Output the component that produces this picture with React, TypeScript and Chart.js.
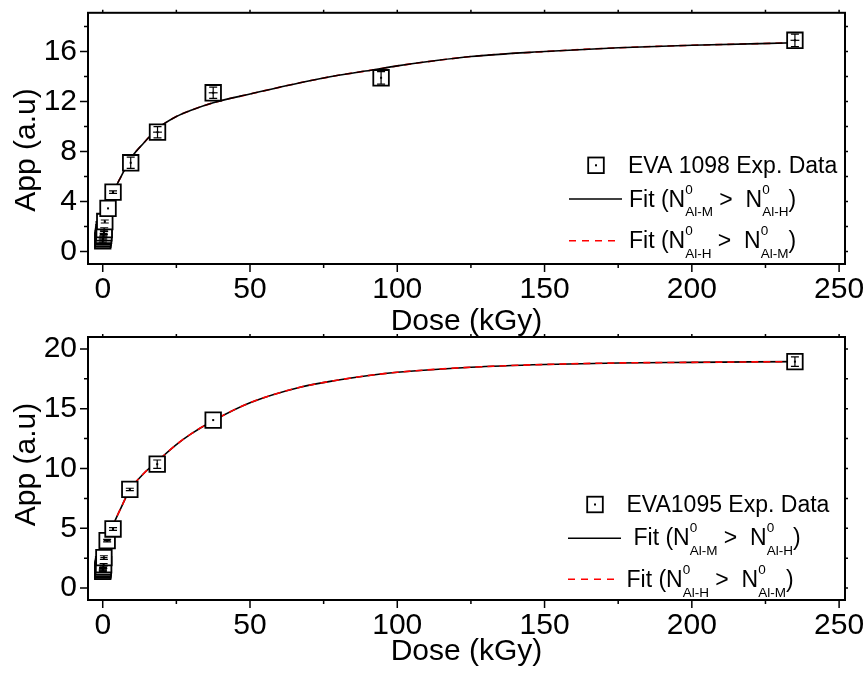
import React, { useEffect, useRef } from 'react';
import { Chart, registerables } from 'chart.js';

Chart.register(...registerables);

const FONT = "'Liberation Sans', Arial, Helvetica, sans-serif";

// ---------- Top panel (EVA 1098) ----------
const doseTop = [0, 0.1, 0.2, 0.3, 0.4, 0.5, 0.7, 1.8, 3.5, 9.5, 18.6, 37.5, 94.5, 235];
const appTop = [0.85, 1.0, 1.15, 1.3, 1.5, 1.75, 2.4, 3.45, 4.75, 7.1, 9.55, 12.7, 13.9, 16.9];
const errYTop = [0.15, 0.15, 0.15, 0.15, 0.15, 0.15, 0.12, 0, 0.1, 0.45, 0.45, 0.45, 0.5, 0.5];
const errXTop = [0, 0, 0, 0, 0, 0, 0, 0, 0, 0, 1.5, 1.5, 0, 1.5];
const fitDoseTop = [0, 0.5, 1, 2, 4, 6, 10, 14, 18.4, 25, 30, 37.5, 50, 67, 80, 91, 100, 125, 150, 175, 200, 235];
const fitTopMH = [0.9, 1.8, 2.5, 3.4, 4.9, 5.9, 7.6, 8.7, 9.8, 10.8, 11.3, 11.9, 12.6, 13.5, 14.1, 14.5, 14.85, 15.6, 16.0, 16.3, 16.5, 16.7];
const fitTopHM = [0.9, 1.8, 2.5, 3.4, 4.9, 5.9, 7.6, 8.7, 9.8, 10.8, 11.3, 11.9, 12.6, 13.5, 14.1, 14.5, 14.85, 15.6, 16.0, 16.3, 16.5, 16.7];
const yMajorTop = [0, 4, 8, 12, 16];
const yMinorTop = [2, 6, 10, 14, 18];

// ---------- Bottom panel (EVA1095) ----------
const doseBot = [0, 0.05, 0.1, 0.2, 0.3, 0.4, 1.5, 3.5, 9.2, 18.5, 37.5, 235];
const appBot = [1.4, 1.5, 1.6, 1.75, 1.95, 2.55, 3.97, 4.94, 8.25, 10.36, 14.05, 18.94];
const errYBot = [0.1, 0.1, 0.1, 0.1, 0.1, 0.15, 0.1, 0.12, 0.1, 0.35, 0, 0.4];
const errXBot = [0, 0, 0, 0, 0, 1.2, 1.2, 0, 0, 0, 0, 0];
const fitDoseBot = [0, 0.5, 1.5, 3.5, 6, 9.2, 14, 18.5, 25, 30, 37.5, 50, 67, 80, 91, 100, 125, 150, 175, 200, 235];
const fitBotMH = [1.2, 2.2, 3.5, 5.2, 6.6, 8.2, 9.6, 10.6, 12.0, 12.9, 14.0, 15.5, 16.8, 17.4, 17.8, 18.05, 18.47, 18.7, 18.83, 18.88, 18.94];
const fitBotHM = [1.2, 2.2, 3.5, 5.2, 6.6, 8.2, 9.6, 10.6, 12.0, 12.9, 14.0, 15.5, 16.8, 17.4, 17.8, 18.05, 18.47, 18.7, 18.83, 18.88, 18.94];
const yMajorBot = [0, 5, 10, 15, 20];
const yMinorBot = [2.5, 7.5, 12.5, 17.5];

// ---------- shared axis ----------
const xMajor = [0, 50, 100, 150, 200, 250];
const xMinor = [25, 75, 125, 175, 225];
const xTitle = 'Dose (kGy)';
const yTitle = 'App (a.u)';

// legend labels
type Part = string | { sup: string; sub: string };
const dataLabelTop = 'EVA 1098 Exp. Data';
const dataLabelBot = 'EVA1095 Exp. Data';
const fitLabelMH: Part[] = ['Fit (N', { sup: '0', sub: 'Al-M' }, ' >  N', { sup: '0', sub: 'Al-H' }, ')'];
const fitLabelHM: Part[] = ['Fit (N', { sup: '0', sub: 'Al-H' }, ' >  N', { sup: '0', sub: 'Al-M' }, ')'];

type Panel = {
  height: number;
  padTop: number;
  xAxisHeight: number;
  yMin: number;
  yMax: number;
  yStep: number;
  yMajor: number[];
  yMinor: number[];
  dose: number[];
  app: number[];
  errY: number[];
  errX: number[];
  fitDose: number[];
  fitMH: number[];
  fitHM: number[];
  redOnTop: boolean;
  yTitleY: number;
  xTitleBase: number;
  dataLabel: string;
  legend: {
    sq: [number, number];
    t1: [number, number];
    l2: [number, number, number];
    t2: [number, number];
    l3: [number, number, number];
    t3: [number, number];
  };
};

const topPanel: Panel = {
  height: 340,
  padTop: 7,
  xAxisHeight: 76,
  yMin: -1,
  yMax: 19.1,
  yStep: 4,
  yMajor: yMajorTop,
  yMinor: yMinorTop,
  dose: doseTop,
  app: appTop,
  errY: errYTop,
  errX: errXTop,
  fitDose: fitDoseTop,
  fitMH: fitTopMH,
  fitHM: fitTopHM,
  redOnTop: false,
  yTitleY: 150,
  xTitleBase: 330,
  dataLabel: dataLabelTop,
  legend: {
    sq: [596, 165.3],
    t1: [628, 173.3],
    l2: [569, 622, 199],
    t2: [629, 206.7],
    l3: [569, 618, 240.7],
    t3: [629, 248.3],
  },
};

const botPanel: Panel = {
  height: 353,
  padTop: 17,
  xAxisHeight: 73,
  yMin: -1,
  yMax: 21,
  yStep: 5,
  yMajor: yMajorBot,
  yMinor: yMinorBot,
  dose: doseBot,
  app: appBot,
  errY: errYBot,
  errX: errXBot,
  fitDose: fitDoseBot,
  fitMH: fitBotMH,
  fitHM: fitBotHM,
  redOnTop: true,
  yTitleY: 144.5,
  xTitleBase: 340,
  dataLabel: dataLabelBot,
  legend: {
    sq: [595, 184.5],
    t1: [626.5, 191.7],
    l2: [568, 621, 218.3],
    t2: [633.5, 225],
    l3: [568, 617, 259.3],
    t3: [626.5, 267.3],
  },
};

function drawRich(ctx: CanvasRenderingContext2D, x: number, base: number, parts: Part[]) {
  let cx = x;
  ctx.textAlign = 'left';
  ctx.textBaseline = 'alphabetic';
  for (const p of parts) {
    if (typeof p === 'string') {
      ctx.font = `23px ${FONT}`;
      ctx.fillText(p, cx, base);
      cx += ctx.measureText(p).width;
    } else {
      ctx.font = `13.5px ${FONT}`;
      ctx.fillText(p.sup, cx, base - 13);
      ctx.fillText(p.sub, cx, base + 9.5);
      cx += Math.max(ctx.measureText(p.sup).width, ctx.measureText(p.sub).width);
    }
  }
}

function makeConfig(p: Panel): any {
  const scatterData = p.dose.map((d, i) => ({ x: d, y: p.app[i] }));
  const mhData = p.fitDose.map((d, i) => ({ x: d, y: p.fitMH[i] }));
  const hmData = p.fitDose.map((d, i) => ({ x: d, y: p.fitHM[i] }));

  const blackDs = {
    type: 'line',
    label: 'fitMH',
    data: mhData,
    borderColor: '#000',
    borderWidth: 1.6,
    pointRadius: 0,
    fill: false,
    cubicInterpolationMode: 'monotone',
    showLine: true,
  };
  const redDs = {
    type: 'line',
    label: 'fitHM',
    data: hmData,
    borderColor: '#ff0000',
    borderWidth: 1.6,
    borderDash: [7, 5],
    pointRadius: 0,
    fill: false,
    cubicInterpolationMode: 'monotone',
    showLine: true,
  };
  const scatterDs = {
    type: 'scatter',
    label: 'data',
    data: scatterData,
    pointStyle: 'rect',
    pointRadius: 11,
    pointBorderWidth: 1.8,
    pointBorderColor: '#000',
    pointBackgroundColor: '#fff',
    showLine: false,
  };
  // index 0 drawn on top
  const datasets = p.redOnTop ? [scatterDs, redDs, blackDs] : [scatterDs, blackDs, redDs];

  const decor = {
    id: 'decor',
    afterDatasetsDraw(chart: any) {
      const { ctx } = chart;
      const xs = chart.scales.x;
      const ys = chart.scales.y;
      ctx.save();
      ctx.strokeStyle = '#000';
      ctx.fillStyle = '#000';
      ctx.lineWidth = 1.2;
      for (let i = 0; i < p.dose.length; i++) {
        const px = xs.getPixelForValue(p.dose[i]);
        const py = ys.getPixelForValue(p.app[i]);
        ctx.fillRect(px - 1, py - 1, 2, 2);
        if (p.errY[i] > 0) {
          const y1 = ys.getPixelForValue(p.app[i] + p.errY[i]);
          const y2 = ys.getPixelForValue(p.app[i] - p.errY[i]);
          ctx.beginPath();
          ctx.moveTo(px, y1);
          ctx.lineTo(px, y2);
          ctx.moveTo(px - 4, y1);
          ctx.lineTo(px + 4, y1);
          ctx.moveTo(px - 4, y2);
          ctx.lineTo(px + 4, y2);
          ctx.stroke();
        }
        if (p.errX[i] > 0) {
          const x1 = xs.getPixelForValue(p.dose[i] - p.errX[i]);
          const x2 = xs.getPixelForValue(p.dose[i] + p.errX[i]);
          ctx.beginPath();
          ctx.moveTo(x1, py);
          ctx.lineTo(x2, py);
          ctx.stroke();
        }
      }
      ctx.restore();
    },
    afterDraw(chart: any) {
      const { ctx, chartArea: a } = chart;
      const xs = chart.scales.x;
      const ys = chart.scales.y;
      ctx.save();
      ctx.strokeStyle = '#000';
      ctx.fillStyle = '#000';
      // frame
      ctx.lineWidth = 2;
      ctx.strokeRect(a.left, a.top, a.right - a.left, a.bottom - a.top);
      // ticks
      ctx.lineWidth = 1.5;
      ctx.beginPath();
      for (const v of xMajor) {
        const px = xs.getPixelForValue(v);
        ctx.moveTo(px, a.bottom);
        ctx.lineTo(px, a.bottom + 8);
      }
      for (const v of xMinor) {
        const px = xs.getPixelForValue(v);
        ctx.moveTo(px, a.bottom);
        ctx.lineTo(px, a.bottom + 4);
      }
      for (const v of [...xMajor, ...xMinor]) {
        const px = xs.getPixelForValue(v);
        ctx.moveTo(px, a.top);
        ctx.lineTo(px, a.top - 3);
      }
      for (const v of p.yMajor) {
        const py = ys.getPixelForValue(v);
        ctx.moveTo(a.left, py);
        ctx.lineTo(a.left - 8, py);
      }
      for (const v of p.yMinor) {
        const py = ys.getPixelForValue(v);
        ctx.moveTo(a.left, py);
        ctx.lineTo(a.left - 4, py);
      }
      for (const v of [...p.yMajor, ...p.yMinor]) {
        const py = ys.getPixelForValue(v);
        ctx.moveTo(a.right, py);
        ctx.lineTo(a.right + 3, py);
      }
      ctx.stroke();

      // axis titles
      ctx.font = `30px ${FONT}`;
      ctx.textAlign = 'center';
      ctx.textBaseline = 'alphabetic';
      ctx.fillText(xTitle, (a.left + a.right) / 2, p.xTitleBase);
      ctx.save();
      ctx.translate(27, p.yTitleY);
      ctx.rotate(-Math.PI / 2);
      ctx.font = `30px ${FONT}`;
      ctx.textBaseline = 'middle';
      ctx.fillText(yTitle, 0, 0);
      ctx.restore();

      // legend
      const L = p.legend;
      const side = 15.6;
      ctx.fillStyle = '#fff';
      ctx.fillRect(L.sq[0] - side / 2, L.sq[1] - side / 2, side, side);
      ctx.lineWidth = 1.8;
      ctx.strokeRect(L.sq[0] - side / 2, L.sq[1] - side / 2, side, side);
      ctx.fillStyle = '#000';
      ctx.fillRect(L.sq[0] - 1, L.sq[1] - 1, 2, 2);
      ctx.font = `23px ${FONT}`;
      ctx.textAlign = 'left';
      ctx.textBaseline = 'alphabetic';
      ctx.fillText(p.dataLabel, L.t1[0], L.t1[1]);

      ctx.lineWidth = 1.6;
      ctx.strokeStyle = '#000';
      ctx.beginPath();
      ctx.moveTo(L.l2[0], L.l2[2]);
      ctx.lineTo(L.l2[1], L.l2[2]);
      ctx.stroke();
      drawRich(ctx, L.t2[0], L.t2[1], fitLabelMH);

      ctx.strokeStyle = '#ff0000';
      ctx.setLineDash([7, 6]);
      ctx.beginPath();
      ctx.moveTo(L.l3[0], L.l3[2]);
      ctx.lineTo(L.l3[1], L.l3[2]);
      ctx.stroke();
      ctx.setLineDash([]);
      ctx.fillStyle = '#000';
      drawRich(ctx, L.t3[0], L.t3[1], fitLabelHM);
      ctx.restore();
    },
  };

  return {
    type: 'scatter',
    data: { datasets },
    options: {
      responsive: false,
      animation: false,
      events: [],
      layout: { padding: { left: 0, right: 21, top: p.padTop, bottom: 0 } },
      plugins: { legend: { display: false }, tooltip: { enabled: false } },
      scales: {
        x: {
          type: 'linear',
          min: -5,
          max: 252,
          grid: { display: false, drawTicks: false },
          border: { display: false },
          ticks: {
            stepSize: 50,
            includeBounds: false,
            padding: 8,
            color: '#000',
            font: { family: FONT, size: 30 },
            maxRotation: 0,
            autoSkip: false,
          },
          afterFit: (s: any) => {
            s.height = p.xAxisHeight;
            s.paddingLeft = 0;
            s.paddingRight = 0;
          },
        },
        y: {
          type: 'linear',
          min: p.yMin,
          max: p.yMax,
          grid: { display: false, drawTicks: false },
          border: { display: false },
          ticks: {
            stepSize: p.yStep,
            includeBounds: false,
            padding: 11,
            color: '#000',
            font: { family: FONT, size: 30 },
            autoSkip: false,
          },
          afterFit: (s: any) => {
            s.width = 88;
            s.paddingTop = 0;
            s.paddingBottom = 0;
          },
        },
      },
    },
    plugins: [decor],
  };
}

export default function App() {
  const r1 = useRef<HTMLCanvasElement>(null);
  const r2 = useRef<HTMLCanvasElement>(null);
  useEffect(() => {
    const c1 = new Chart(r1.current as HTMLCanvasElement, makeConfig(topPanel));
    const c2 = new Chart(r2.current as HTMLCanvasElement, makeConfig(botPanel));
    return () => {
      c1.destroy();
      c2.destroy();
    };
  }, []);
  return (
    <div style={{ position: 'absolute', left: 0, top: 0, width: 866, height: 673, background: '#fff' }}>
      <canvas
        ref={r1}
        width={866}
        height={topPanel.height}
        style={{ position: 'absolute', left: 0, top: 0, width: 866, height: topPanel.height }}
      />
      <canvas
        ref={r2}
        width={866}
        height={botPanel.height}
        style={{ position: 'absolute', left: 0, top: 320, width: 866, height: botPanel.height }}
      />
    </div>
  );
}
